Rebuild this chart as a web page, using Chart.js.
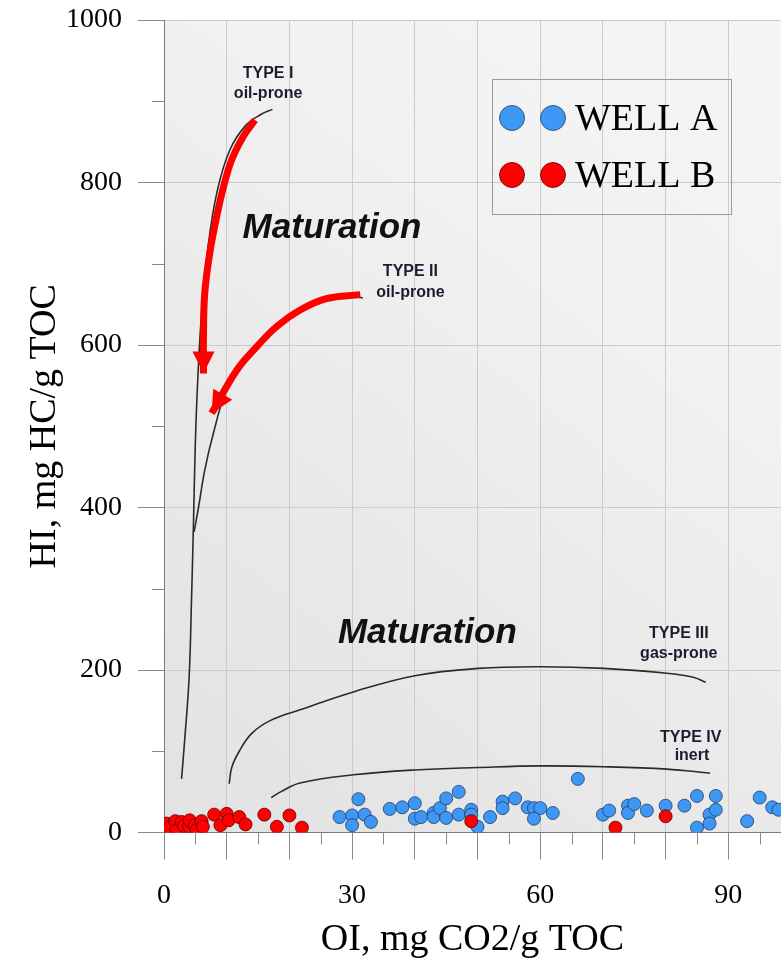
<!DOCTYPE html>
<html>
<head>
<meta charset="utf-8">
<script src="https://cdn.jsdelivr.net/npm/chart.js@4"></script>
<style>
  html, body { margin: 0; padding: 0; background: #ffffff; }
  #wrap { width: 781px; height: 963px; }
</style>
</head>
<body>
<div id="wrap"><canvas id="vk"></canvas></div>
<script>
// =========================
// DATA
// =========================

// WELL A samples (blue)
const wellAOI = [28, 30, 30, 31, 32, 33, 36, 38, 40, 40, 41, 43, 43, 44, 45, 45, 47, 47, 49, 49, 50,
                 52, 54, 54, 56, 58, 59, 60, 59, 62, 66, 70, 71, 74, 74, 75, 77, 80, 83, 85, 85,
                 87, 87, 88, 88, 93, 95, 97, 98];
const wellAHI = [19, 21, 9, 41, 22, 13, 29, 31, 36, 17, 19, 24, 19, 30, 42, 18, 50, 22, 28, 22, 7,
                 19, 38, 30, 42, 31, 30, 30, 17, 24, 66, 22, 27, 33, 24, 35, 27, 33, 33, 45, 6,
                 22, 11, 45, 28, 14, 43, 31, 28];

// WELL B samples (red)
const wellBOI = [0.4, 0.9, 1.8, 2.0, 2.8, 3.2, 4.0, 4.1, 4.9, 5.2, 6.0, 6.2,
                 8, 9, 10, 10.3, 12, 13, 16, 18, 20, 22, 49, 72, 80];
const wellBHI = [11, 6, 14, 3, 13, 8, 7, 15, 9, 3, 14, 7,
                 22, 9, 23, 15, 19, 10, 22, 7, 21, 6, 14, 6, 20];

// kerogen type paths (from the underlying van Krevelen template)
const typeIOI   = [2.8, 3.3, 4.0, 4.4, 4.7, 5.0, 5.4, 6.0, 7.0, 8.5, 10.5, 13, 15.5, 17.3];
const typeIHI   = [66, 114, 190, 290, 380, 480, 560, 640, 720, 790, 840, 870, 884, 890];
const typeIIOI  = [4.8, 5.5, 6.5, 7.9, 10, 13.2, 18, 23.3, 29.1, 31.7];
const typeIIHI  = [370, 400, 446, 492, 545, 583, 622, 651, 659, 658];
const typeIIIOI = [10.4, 10.8, 12, 14, 17, 21.7, 30.2, 40, 50.1, 60.1, 70.1, 80.2, 84.4, 86.4];
const typeIIIHI = [60, 80, 100, 122, 138, 151, 173, 193, 202, 204, 202, 196, 191, 185];
const typeIVOI  = [17.1, 18.6, 21.7, 30.2, 40, 50.1, 60.1, 70.1, 80.2, 87.1];
const typeIVHI  = [43, 50, 61, 71, 77, 80, 82, 81, 78, 73];

// red maturation arrows
const arrowIOI  = [14.5, 12.6, 10.8, 9.5, 8.4, 7.3, 6.5, 6.3, 6.3];
const arrowIHI  = [877, 856, 828, 795, 758, 713, 664, 614, 565];
const arrowIIOI = [31.3, 25.9, 21.7, 18.0, 14.8, 11.6, 7.6];
const arrowIIHI = [662, 657, 643, 623, 598, 569, 516];

// ticks
const xTickLabels = [0, 30, 60, 90];
const xMinorTicks = [5, 15, 25, 35, 45, 55, 65, 75, 85, 95];
const yTickLabels = [0, 200, 400, 600, 800, 1000];
const yMinorTicks = [100, 300, 500, 700, 900];

// template annotations, anchored in data units
const notes = [
    { text: "TYPE I", x: 16.6, y: 934, kind: "type" },
    { text: "oil-prone", x: 16.6, y: 910, kind: "type" },
    { text: "TYPE II", x: 39.3, y: 690, kind: "type" },
    { text: "oil-prone", x: 39.3, y: 665, kind: "type" },
    { text: "TYPE III", x: 82.1, y: 245, kind: "type" },
    { text: "gas-prone", x: 82.1, y: 220, kind: "type" },
    { text: "TYPE IV", x: 84, y: 117, kind: "type" },
    { text: "inert", x: 84.2, y: 94.5, kind: "type" },
    { text: "Maturation", x: 26.8, y: 743, kind: "big" },
    { text: "Maturation", x: 42, y: 245, kind: "big" }
];

const zip = (xs, ys) => xs.map((x, i) => ({ x: x, y: ys[i] }));

// =========================
// PLUGINS
// =========================

const plotBackground = {
    id: "plotBackground",
    beforeDraw(chart) {
        const { ctx, chartArea: a } = chart;
        const g = ctx.createLinearGradient(a.left, a.bottom, a.right, a.top);
        g.addColorStop(0, "#e2e2e2");
        g.addColorStop(0.4, "#eaeaea");
        g.addColorStop(0.7, "#f2f2f2");
        g.addColorStop(1, "#f5f5f5");
        ctx.save();
        ctx.fillStyle = g;
        ctx.fillRect(a.left, a.top, a.right - a.left, a.bottom - a.top);
        ctx.restore();
    }
};

const templateNotes = {
    id: "templateNotes",
    beforeDatasetsDraw(chart) {
        const { ctx, scales } = chart;
        ctx.save();
        ctx.textAlign = "center";
        ctx.textBaseline = "middle";
        notes.forEach(n => {
            if (n.kind === "big") {
                ctx.font = "italic bold 35px 'Liberation Sans', Arial, sans-serif";
                ctx.fillStyle = "#111111";
            } else {
                ctx.font = "bold 16px 'Liberation Sans', Arial, sans-serif";
                ctx.fillStyle = "#1b1d2e";
            }
            ctx.fillText(n.text, scales.x.getPixelForValue(n.x), scales.y.getPixelForValue(n.y));
        });
        ctx.restore();
    }
};

// arrow heads at the end of the red maturation paths
const arrowHeads = {
    id: "arrowHeads",
    afterDatasetsDraw(chart) {
        const { ctx } = chart;
        chart.data.datasets.forEach((ds, i) => {
            if (!ds.isArrow) return;
            const pts = chart.getDatasetMeta(i).data;
            const tip = pts[pts.length - 1];
            const prev = pts[pts.length - 2];
            const ang = Math.atan2(tip.y - prev.y, tip.x - prev.x);
            const len = 22, half = 11;
            ctx.save();
            ctx.translate(tip.x, tip.y);
            ctx.rotate(ang);
            ctx.beginPath();
            ctx.moveTo(0, 0);
            ctx.lineTo(-len, -half);
            ctx.lineTo(-len, half);
            ctx.closePath();
            ctx.fillStyle = ds.borderColor;
            ctx.fill();
            ctx.restore();
        });
    }
};

const minorTicks = {
    id: "minorTicks",
    afterDraw(chart) {
        const { ctx, chartArea: a, scales } = chart;
        ctx.save();
        ctx.strokeStyle = "#8a8a8a";
        ctx.lineWidth = 1;
        ctx.beginPath();
        xMinorTicks.forEach(v => {
            const px = Math.round(scales.x.getPixelForValue(v)) + 0.5;
            ctx.moveTo(px, a.bottom);
            ctx.lineTo(px, a.bottom + 12);
        });
        yMinorTicks.forEach(v => {
            const py = Math.round(scales.y.getPixelForValue(v)) + 0.5;
            ctx.moveTo(a.left, py);
            ctx.lineTo(a.left - 12, py);
        });
        ctx.stroke();
        ctx.restore();
    }
};

const wellLegend = {
    id: "wellLegend",
    afterDraw(chart) {
        const { ctx, chartArea: a } = chart;
        const left = a.left + 328, top = a.top + 59;
        ctx.save();
        ctx.strokeStyle = "#9a9a9a";
        ctx.lineWidth = 1;
        ctx.strokeRect(left + 0.5, top + 0.5, 239, 135);
        const items = [chart.data.datasets[1], chart.data.datasets[0]];
        items.forEach((ds, i) => {
            const cy = top + 39 + i * 57;
            [20, 61].forEach(dx => {
                ctx.beginPath();
                ctx.arc(left + dx, cy, 12.5, 0, Math.PI * 2);
                ctx.fillStyle = ds.backgroundColor;
                ctx.fill();
                ctx.lineWidth = 0.8;
                ctx.strokeStyle = ds.borderColor;
                ctx.stroke();
            });
            ctx.fillStyle = "#000000";
            ctx.font = "38px 'Liberation Serif', 'Times New Roman', serif";
            ctx.textAlign = "left";
            ctx.textBaseline = "middle";
            ctx.fillText(ds.label, left + 83, cy + 2);
        });
        ctx.restore();
    }
};

// =========================
// CHART
// =========================

Chart.defaults.font.family = "'Liberation Serif', 'Times New Roman', serif";
Chart.defaults.color = "#000000";

const pathStyle = {
    type: "line",
    showLine: true,
    pointRadius: 0,
    pointHoverRadius: 0,
    borderColor: "#2b2b2b",
    borderWidth: 1.6,
    tension: 0.4,
    fill: false
};

const arrowStyle = {
    type: "line",
    isArrow: true,
    showLine: true,
    pointRadius: 0,
    pointHoverRadius: 0,
    borderColor: "#ff0000",
    borderWidth: 7,
    borderCapStyle: "butt",
    tension: 0.4,
    fill: false
};

const vk = document.getElementById("vk");

new Chart(vk, {
    type: "scatter",
    data: {
        datasets: [
            {
                label: "WELL B",
                data: zip(wellBOI, wellBHI),
                backgroundColor: "#ff0000",
                borderColor: "#5a0000",
                borderWidth: 0.8,
                pointRadius: 6.5
            },
            {
                label: "WELL A",
                data: zip(wellAOI, wellAHI),
                backgroundColor: "#3f97f5",
                borderColor: "#1f3d63",
                borderWidth: 0.8,
                pointRadius: 6.5
            },
            Object.assign({ label: "arrow I", data: zip(arrowIOI, arrowIHI) }, arrowStyle),
            Object.assign({ label: "arrow II", data: zip(arrowIIOI, arrowIIHI) }, arrowStyle),
            Object.assign({ label: "TYPE I", data: zip(typeIOI, typeIHI) }, pathStyle),
            Object.assign({ label: "TYPE II", data: zip(typeIIOI, typeIIHI) }, pathStyle),
            Object.assign({ label: "TYPE III", data: zip(typeIIIOI, typeIIIHI) }, pathStyle),
            Object.assign({ label: "TYPE IV", data: zip(typeIVOI, typeIVHI) }, pathStyle)
        ]
    },
    options: {
        responsive: true,
        maintainAspectRatio: false,
        animation: false,
        layout: { autoPadding: false, padding: { top: 20, right: 0, bottom: 0, left: 0 } },
        plugins: {
            legend: { display: false },
            tooltip: { enabled: false }
        },
        scales: {
            x: {
                type: "linear",
                min: 0,
                max: 98.4,
                afterFit: s => { s.height = 130.5; s.paddingLeft = 0; s.paddingRight = 0; },
                ticks: {
                    stepSize: 10,
                    includeBounds: false,
                    padding: 19,
                    maxRotation: 0,
                    autoSkip: false,
                    font: { size: 28 },
                    callback: v => (xTickLabels.includes(v) ? String(v) : "")
                },
                grid: {
                    color: "#cbcbcb",
                    tickColor: "#8a8a8a",
                    tickLength: 27
                },
                border: { color: "#7a7a7a", width: 1 },
                title: {
                    display: true,
                    text: "OI, mg CO2/g TOC",
                    font: { size: 38 },
                    padding: { top: 0, bottom: 0 }
                }
            },
            y: {
                type: "linear",
                min: 0,
                max: 1000,
                afterFit: s => { s.width = 164; s.paddingTop = 0; s.paddingBottom = 0; },
                ticks: {
                    stepSize: 200,
                    padding: 16,
                    font: { size: 28 },
                    callback: v => (yTickLabels.includes(v) ? String(v) : "")
                },
                grid: {
                    color: "#cbcbcb",
                    tickColor: "#8a8a8a",
                    tickLength: 26
                },
                border: { color: "#7a7a7a", width: 1 },
                title: {
                    display: true,
                    text: "HI, mg HC/g TOC",
                    font: { size: 38 },
                    padding: { top: 22, bottom: 0 }
                }
            }
        }
    },
    plugins: [plotBackground, templateNotes, arrowHeads, minorTicks, wellLegend]
});
</script>
</body>
</html>
